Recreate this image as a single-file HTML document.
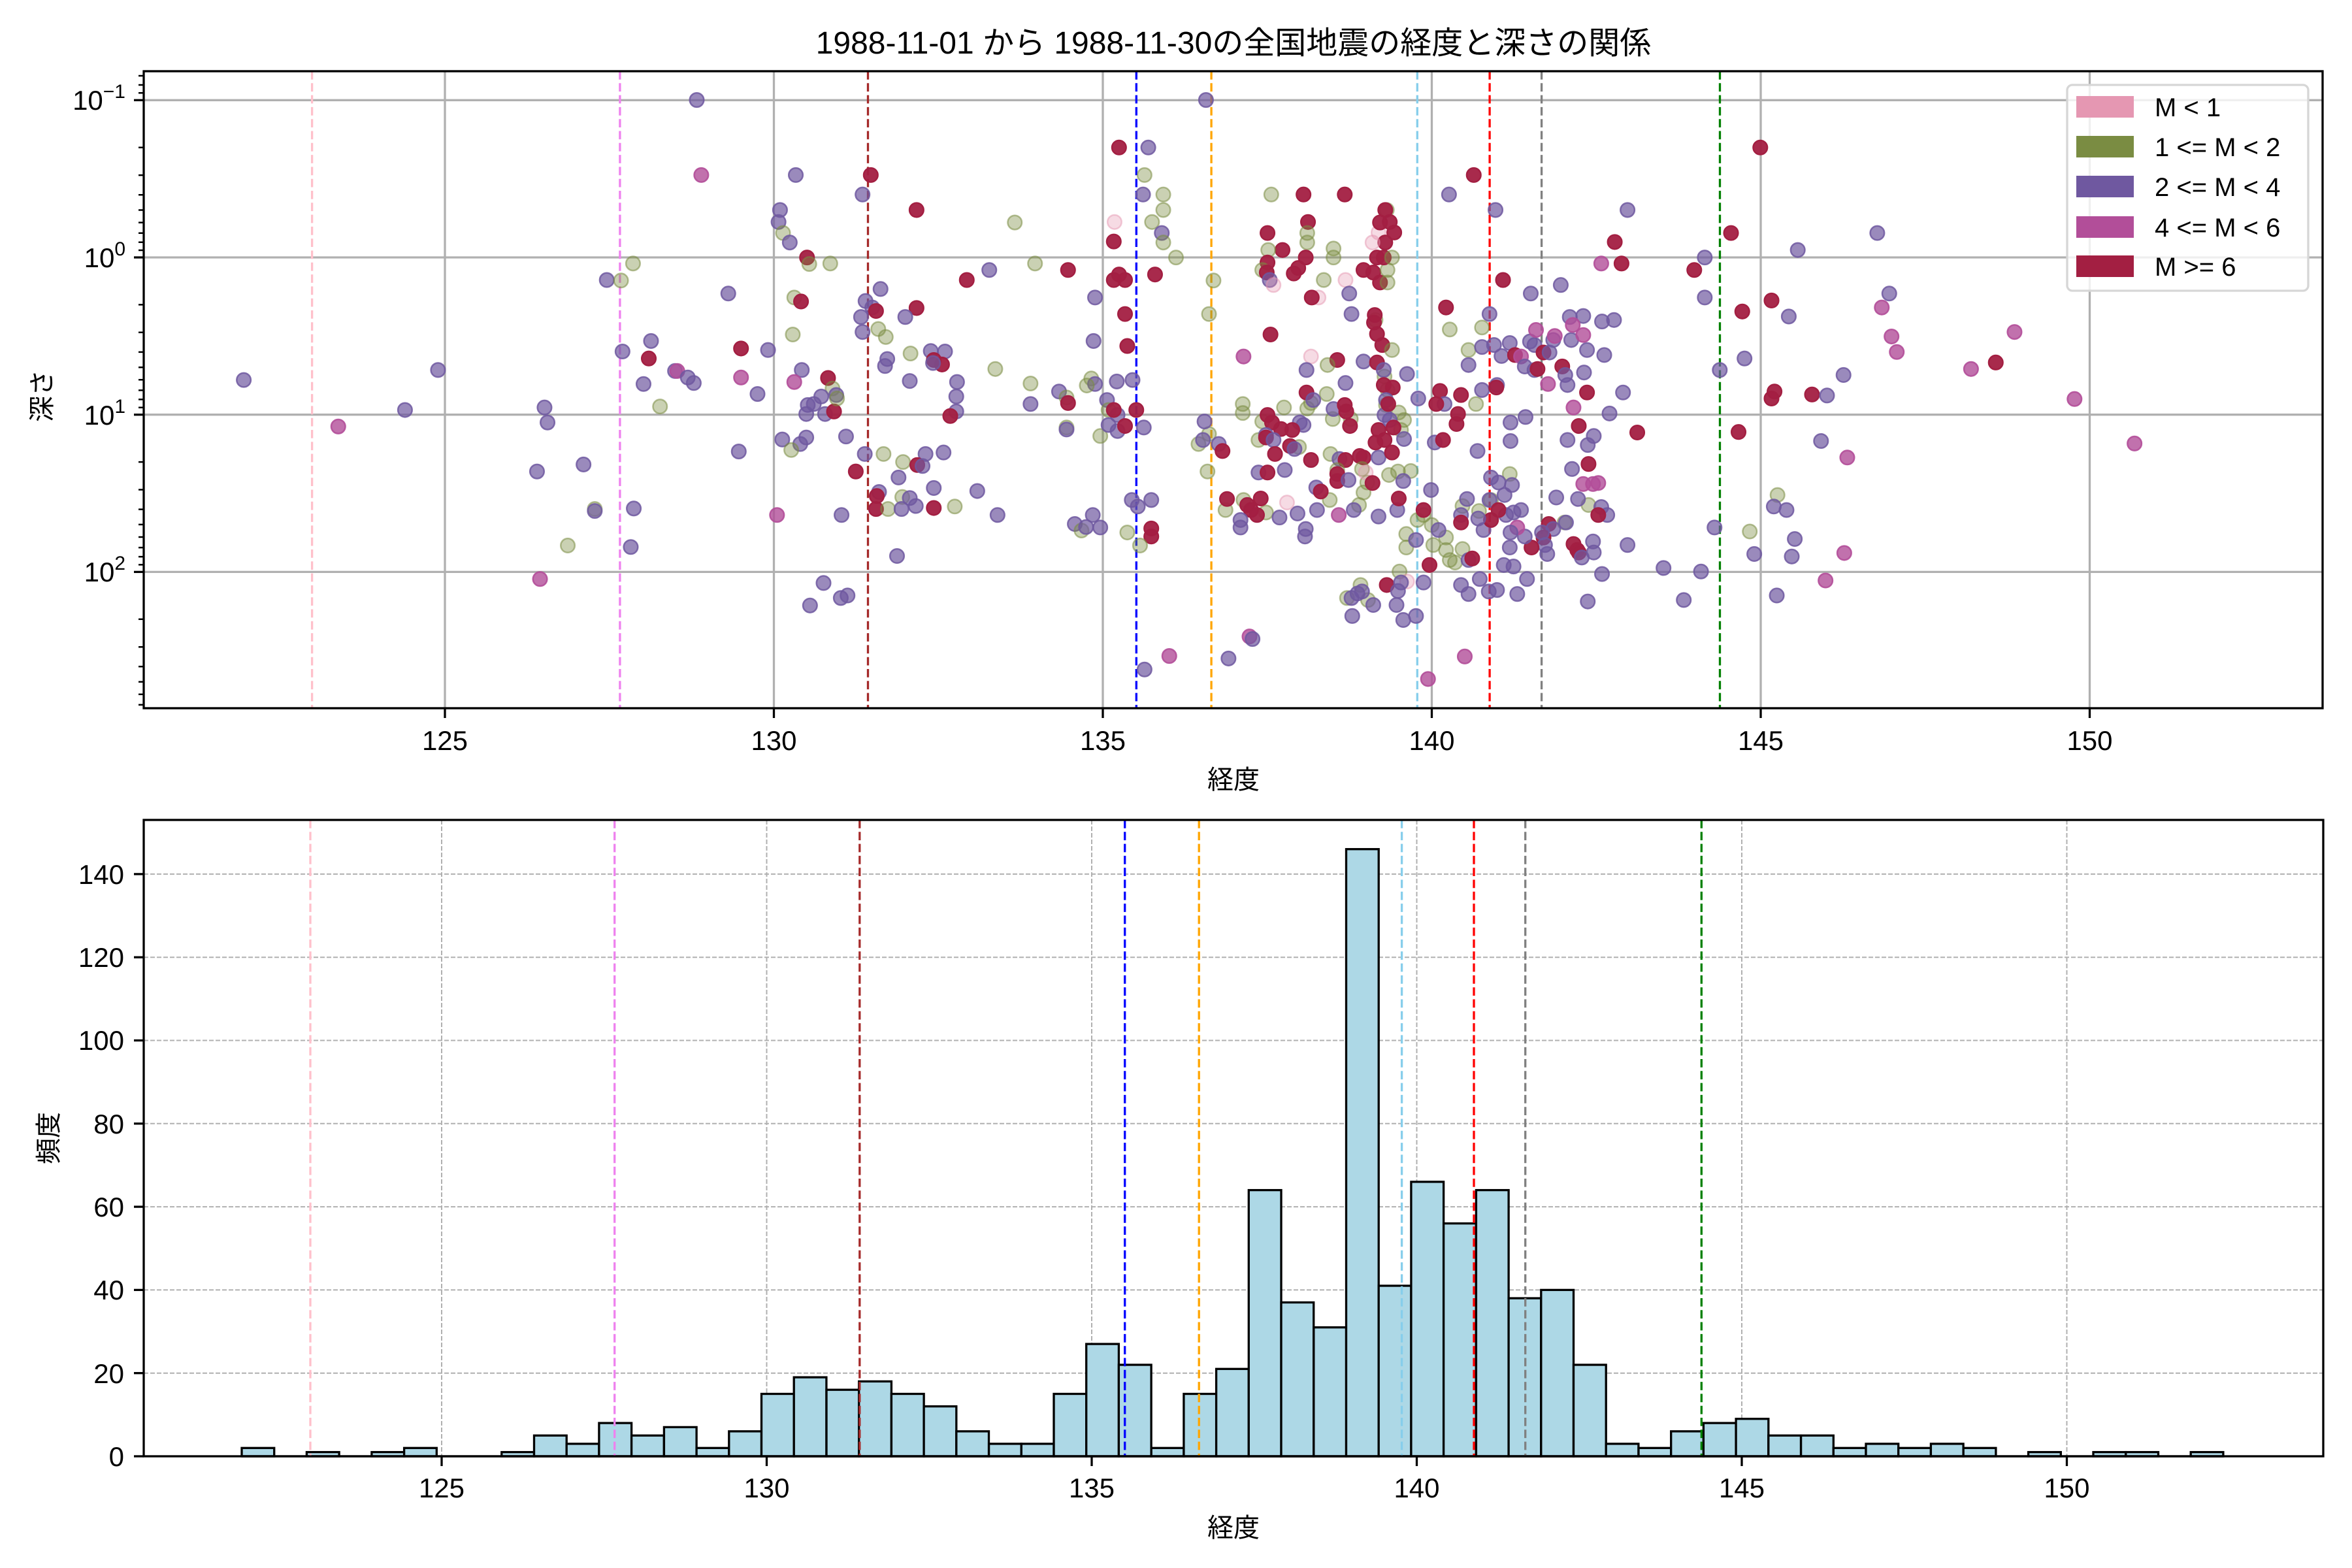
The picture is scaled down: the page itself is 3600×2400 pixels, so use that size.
<!DOCTYPE html>
<html><head><meta charset="utf-8"><style>
html,body{margin:0;padding:0;background:#fff}
svg{display:block}
text{font-family:"Liberation Sans","Noto Sans CJK JP",sans-serif;fill:#000}
.g{fill:rgba(122,140,66,0.4);stroke:rgba(122,140,66,0.55)}
.k{fill:rgba(229,151,178,0.35);stroke:rgba(229,151,178,0.5)}
.p{fill:rgba(111,88,160,0.7);stroke:rgba(111,88,160,0.85)}
.m{fill:rgba(178,78,153,0.8);stroke:rgba(178,78,153,0.9)}
.r{fill:rgba(163,31,66,0.95);stroke:rgba(163,31,66,1)}
</style></head><body>
<svg width="3600" height="2400" viewBox="0 0 3600 2400" xmlns="http://www.w3.org/2000/svg" xmlns:xlink="http://www.w3.org/1999/xlink">
<defs>
<ellipse id="e" rx="9.4" ry="14.1" vector-effect="non-scaling-stroke" stroke-width="2.5"/>
<clipPath id="c1"><rect x="220" y="109" width="3335" height="975"/></clipPath>
</defs>
<rect width="3600" height="2400" fill="#fff"/>

<!-- Title -->
<text x="1888" y="82" font-size="48" text-anchor="middle">1988-11-01 から 1988-11-30の全国地震の経度と深さの関係</text>

<!-- ===== TOP PLOT ===== -->
<g stroke="#b0b0b0" stroke-width="3.3">
<line x1="681" y1="109" x2="681" y2="1084"/>
<line x1="1184.5" y1="109" x2="1184.5" y2="1084"/>
<line x1="1688" y1="109" x2="1688" y2="1084"/>
<line x1="2191.5" y1="109" x2="2191.5" y2="1084"/>
<line x1="2695" y1="109" x2="2695" y2="1084"/>
<line x1="3198.5" y1="109" x2="3198.5" y2="1084"/>
<line x1="220" y1="153.3" x2="3555" y2="153.3"/>
<line x1="220" y1="394" x2="3555" y2="394"/>
<line x1="220" y1="634.7" x2="3555" y2="634.7"/>
<line x1="220" y1="875.4" x2="3555" y2="875.4"/>
</g>
<g stroke-width="3.3" stroke-dasharray="12.8,5.5">
<line x1="477.6" y1="109" x2="477.6" y2="1084" stroke="pink"/>
<line x1="948.9" y1="109" x2="948.9" y2="1084" stroke="violet"/>
<line x1="1328.5" y1="109" x2="1328.5" y2="1084" stroke="brown"/>
<line x1="1739.3" y1="109" x2="1739.3" y2="1084" stroke="blue"/>
<line x1="1854.1" y1="109" x2="1854.1" y2="1084" stroke="orange"/>
<line x1="2169.3" y1="109" x2="2169.3" y2="1084" stroke="skyblue"/>
<line x1="2280.1" y1="109" x2="2280.1" y2="1084" stroke="red"/>
<line x1="2359.6" y1="109" x2="2359.6" y2="1084" stroke="gray"/>
<line x1="2632.5" y1="109" x2="2632.5" y2="1084" stroke="green"/>
</g>

<g clip-path="url(#c1)">
<g transform="matrix(1.148,0,0,0.7653,0,0)">
<use xlink:href="#e" x="325" y="760" class="p"/><use xlink:href="#e" x="451" y="853" class="m"/><use xlink:href="#e" x="540" y="820" class="p"/><use xlink:href="#e" x="584" y="740" class="p"/><use xlink:href="#e" x="716" y="943" class="p"/><use xlink:href="#e" x="726" y="815" class="p"/><use xlink:href="#e" x="730" y="845" class="p"/><use xlink:href="#e" x="778" y="929" class="p"/><use xlink:href="#e" x="757" y="1091" class="g"/><use xlink:href="#e" x="793" y="1018" class="g"/><use xlink:href="#e" x="793" y="1022" class="p"/><use xlink:href="#e" x="809" y="560" class="p"/><use xlink:href="#e" x="828" y="561" class="g"/><use xlink:href="#e" x="844" y="527" class="g"/><use xlink:href="#e" x="830" y="703" class="p"/><use xlink:href="#e" x="868" y="682" class="p"/><use xlink:href="#e" x="865" y="717" class="r"/><use xlink:href="#e" x="858" y="768" class="p"/><use xlink:href="#e" x="880" y="813" class="g"/><use xlink:href="#e" x="845" y="1017" class="p"/><use xlink:href="#e" x="841" y="1094" class="p"/><use xlink:href="#e" x="900" y="742" class="p"/><use xlink:href="#e" x="903" y="742" class="m"/><use xlink:href="#e" x="917" y="755" class="p"/><use xlink:href="#e" x="925" y="766" class="p"/><use xlink:href="#e" x="720" y="1158" class="m"/><use xlink:href="#e" x="929" y="200" class="p"/><use xlink:href="#e" x="935" y="350" class="m"/><use xlink:href="#e" x="971" y="587" class="p"/><use xlink:href="#e" x="988" y="697" class="r"/><use xlink:href="#e" x="988" y="755" class="m"/><use xlink:href="#e" x="1010" y="788" class="p"/><use xlink:href="#e" x="1024" y="700" class="p"/><use xlink:href="#e" x="985" y="903" class="p"/><use xlink:href="#e" x="1036" y="1030" class="m"/><use xlink:href="#e" x="1040" y="420" class="p"/><use xlink:href="#e" x="1038" y="444" class="p"/><use xlink:href="#e" x="1044" y="466" class="g"/><use xlink:href="#e" x="1053" y="485" class="p"/><use xlink:href="#e" x="1061" y="350" class="p"/><use xlink:href="#e" x="1076" y="515" class="r"/><use xlink:href="#e" x="1079" y="528" class="g"/><use xlink:href="#e" x="1107" y="527" class="g"/><use xlink:href="#e" x="1059" y="595" class="g"/><use xlink:href="#e" x="1068" y="603" class="r"/><use xlink:href="#e" x="1057" y="669" class="g"/><use xlink:href="#e" x="1069" y="740" class="p"/><use xlink:href="#e" x="1104" y="756" class="r"/><use xlink:href="#e" x="1110" y="777" class="g"/><use xlink:href="#e" x="1115" y="790" class="p"/><use xlink:href="#e" x="1095" y="793" class="p"/><use xlink:href="#e" x="1085" y="808" class="p"/><use xlink:href="#e" x="1077" y="810" class="p"/><use xlink:href="#e" x="1075" y="828" class="p"/><use xlink:href="#e" x="1100" y="828" class="p"/><use xlink:href="#e" x="1112" y="823" class="r"/><use xlink:href="#e" x="1116" y="797" class="g"/><use xlink:href="#e" x="1059" y="764" class="m"/><use xlink:href="#e" x="1043" y="879" class="p"/><use xlink:href="#e" x="1075" y="875" class="p"/><use xlink:href="#e" x="1067" y="888" class="p"/><use xlink:href="#e" x="1055" y="900" class="g"/><use xlink:href="#e" x="1128" y="873" class="p"/><use xlink:href="#e" x="1098" y="1166" class="p"/><use xlink:href="#e" x="1080" y="1211" class="p"/><use xlink:href="#e" x="1121" y="1196" class="p"/><use xlink:href="#e" x="1130" y="1191" class="p"/><use xlink:href="#e" x="1122" y="1030" class="p"/><use xlink:href="#e" x="1161" y="350" class="r"/><use xlink:href="#e" x="1150" y="389" class="p"/><use xlink:href="#e" x="1222" y="420" class="r"/><use xlink:href="#e" x="1174" y="578" class="p"/><use xlink:href="#e" x="1154" y="602" class="p"/><use xlink:href="#e" x="1163" y="615" class="p"/><use xlink:href="#e" x="1168" y="622" class="r"/><use xlink:href="#e" x="1148" y="634" class="p"/><use xlink:href="#e" x="1150" y="664" class="p"/><use xlink:href="#e" x="1171" y="658" class="g"/><use xlink:href="#e" x="1181" y="674" class="g"/><use xlink:href="#e" x="1222" y="616" class="r"/><use xlink:href="#e" x="1207" y="634" class="p"/><use xlink:href="#e" x="1183" y="718" class="p"/><use xlink:href="#e" x="1180" y="732" class="p"/><use xlink:href="#e" x="1213" y="762" class="p"/><use xlink:href="#e" x="1214" y="707" class="g"/><use xlink:href="#e" x="1241" y="702" class="p"/><use xlink:href="#e" x="1260" y="703" class="p"/><use xlink:href="#e" x="1245" y="720" class="r"/><use xlink:href="#e" x="1256" y="729" class="r"/><use xlink:href="#e" x="1244" y="726" class="p"/><use xlink:href="#e" x="1276" y="764" class="p"/><use xlink:href="#e" x="1275" y="793" class="p"/><use xlink:href="#e" x="1275" y="823" class="p"/><use xlink:href="#e" x="1267" y="832" class="r"/><use xlink:href="#e" x="1289" y="560" class="r"/><use xlink:href="#e" x="1319" y="540" class="p"/><use xlink:href="#e" x="1353" y="445" class="g"/><use xlink:href="#e" x="1380" y="527" class="g"/><use xlink:href="#e" x="1424" y="540" class="r"/><use xlink:href="#e" x="1460" y="595" class="p"/><use xlink:href="#e" x="1458" y="682" class="p"/><use xlink:href="#e" x="1327" y="738" class="g"/><use xlink:href="#e" x="1374" y="767" class="g"/><use xlink:href="#e" x="1412" y="783" class="p"/><use xlink:href="#e" x="1422" y="795" class="g"/><use xlink:href="#e" x="1424" y="806" class="r"/><use xlink:href="#e" x="1374" y="808" class="p"/><use xlink:href="#e" x="1455" y="757" class="g"/><use xlink:href="#e" x="1460" y="768" class="p"/><use xlink:href="#e" x="1449" y="771" class="g"/><use xlink:href="#e" x="1153" y="908" class="p"/><use xlink:href="#e" x="1178" y="908" class="g"/><use xlink:href="#e" x="1234" y="908" class="p"/><use xlink:href="#e" x="1258" y="905" class="p"/><use xlink:href="#e" x="1204" y="924" class="g"/><use xlink:href="#e" x="1223" y="930" class="r"/><use xlink:href="#e" x="1230" y="932" class="p"/><use xlink:href="#e" x="1141" y="943" class="r"/><use xlink:href="#e" x="1198" y="955" class="p"/><use xlink:href="#e" x="1245" y="976" class="p"/><use xlink:href="#e" x="1303" y="982" class="p"/><use xlink:href="#e" x="1172" y="984" class="p"/><use xlink:href="#e" x="1169" y="992" class="r"/><use xlink:href="#e" x="1203" y="994" class="g"/><use xlink:href="#e" x="1213" y="996" class="p"/><use xlink:href="#e" x="1221" y="1012" class="p"/><use xlink:href="#e" x="1168" y="1018" class="r"/><use xlink:href="#e" x="1184" y="1018" class="g"/><use xlink:href="#e" x="1202" y="1018" class="p"/><use xlink:href="#e" x="1245" y="1016" class="r"/><use xlink:href="#e" x="1273" y="1013" class="g"/><use xlink:href="#e" x="1330" y="1030" class="p"/><use xlink:href="#e" x="1196" y="1112" class="p"/><use xlink:href="#e" x="1422" y="855" class="g"/><use xlink:href="#e" x="1422" y="859" class="p"/><use xlink:href="#e" x="1467" y="872" class="g"/><use xlink:href="#e" x="1433" y="1048" class="p"/><use xlink:href="#e" x="1442" y="1061" class="g"/><use xlink:href="#e" x="1448" y="1054" class="p"/><use xlink:href="#e" x="1457" y="1030" class="p"/><use xlink:href="#e" x="1467" y="1055" class="p"/><use xlink:href="#e" x="1476" y="800" class="p"/><use xlink:href="#e" x="1478" y="820" class="g"/><use xlink:href="#e" x="1490" y="830" class="p"/><use xlink:href="#e" x="1478" y="850" class="p"/><use xlink:href="#e" x="1490" y="862" class="p"/><use xlink:href="#e" x="1500" y="852" class="r"/><use xlink:href="#e" x="1525" y="855" class="p"/><use xlink:href="#e" x="1492" y="295" class="r"/><use xlink:href="#e" x="1531" y="295" class="p"/><use xlink:href="#e" x="1526" y="350" class="g"/><use xlink:href="#e" x="1524" y="389" class="p"/><use xlink:href="#e" x="1551" y="389" class="g"/><use xlink:href="#e" x="1551" y="420" class="g"/><use xlink:href="#e" x="1536" y="444" class="g"/><use xlink:href="#e" x="1486" y="444" class="k"/><use xlink:href="#e" x="1549" y="466" class="p"/><use xlink:href="#e" x="1551" y="485" class="g"/><use xlink:href="#e" x="1485" y="483" class="r"/><use xlink:href="#e" x="1485" y="560" class="r"/><use xlink:href="#e" x="1492" y="549" class="r"/><use xlink:href="#e" x="1500" y="560" class="r"/><use xlink:href="#e" x="1540" y="549" class="r"/><use xlink:href="#e" x="1500" y="628" class="r"/><use xlink:href="#e" x="1503" y="692" class="r"/><use xlink:href="#e" x="1489" y="763" class="p"/><use xlink:href="#e" x="1510" y="760" class="p"/><use xlink:href="#e" x="1485" y="820" class="r"/><use xlink:href="#e" x="1515" y="820" class="r"/><use xlink:href="#e" x="1509" y="1000" class="p"/><use xlink:href="#e" x="1517" y="1013" class="p"/><use xlink:href="#e" x="1535" y="1000" class="p"/><use xlink:href="#e" x="1535" y="1057" class="r"/><use xlink:href="#e" x="1535" y="1073" class="r"/><use xlink:href="#e" x="1503" y="1065" class="g"/><use xlink:href="#e" x="1520" y="1091" class="g"/><use xlink:href="#e" x="1526" y="1339" class="p"/><use xlink:href="#e" x="1559" y="1312" class="m"/>
</g>
<g transform="matrix(1.148,0,0,0.7653,1800,0)">
<use xlink:href="#e" x="40" y="200" class="p"/><use xlink:href="#e" x="0" y="515" class="g"/><use xlink:href="#e" x="50" y="561" class="g"/><use xlink:href="#e" x="44" y="628" class="g"/><use xlink:href="#e" x="127" y="389" class="g"/><use xlink:href="#e" x="170" y="389" class="r"/><use xlink:href="#e" x="225" y="389" class="r"/><use xlink:href="#e" x="281" y="420" class="g"/><use xlink:href="#e" x="279" y="420" class="r"/><use xlink:href="#e" x="176" y="444" class="r"/><use xlink:href="#e" x="175" y="466" class="g"/><use xlink:href="#e" x="122" y="466" class="r"/><use xlink:href="#e" x="175" y="485" class="g"/><use xlink:href="#e" x="142" y="500" class="r"/><use xlink:href="#e" x="123" y="500" class="g"/><use xlink:href="#e" x="210" y="497" class="g"/><use xlink:href="#e" x="210" y="515" class="g"/><use xlink:href="#e" x="173" y="515" class="r"/><use xlink:href="#e" x="122" y="525" class="r"/><use xlink:href="#e" x="115" y="540" class="g"/><use xlink:href="#e" x="121" y="545" class="r"/><use xlink:href="#e" x="125" y="560" class="p"/><use xlink:href="#e" x="130" y="570" class="k"/><use xlink:href="#e" x="157" y="547" class="r"/><use xlink:href="#e" x="163" y="536" class="r"/><use xlink:href="#e" x="197" y="560" class="g"/><use xlink:href="#e" x="226" y="560" class="k"/><use xlink:href="#e" x="250" y="540" class="r"/><use xlink:href="#e" x="263" y="545" class="r"/><use xlink:href="#e" x="272" y="565" class="r"/><use xlink:href="#e" x="282" y="540" class="g"/><use xlink:href="#e" x="282" y="565" class="g"/><use xlink:href="#e" x="270" y="465" class="k"/><use xlink:href="#e" x="272" y="445" class="r"/><use xlink:href="#e" x="285" y="444" class="r"/><use xlink:href="#e" x="279" y="485" class="r"/><use xlink:href="#e" x="262" y="485" class="k"/><use xlink:href="#e" x="268" y="515" class="r"/><use xlink:href="#e" x="277" y="515" class="r"/><use xlink:href="#e" x="288" y="515" class="g"/><use xlink:href="#e" x="291" y="465" class="r"/><use xlink:href="#e" x="190" y="595" class="k"/><use xlink:href="#e" x="181" y="595" class="r"/><use xlink:href="#e" x="231" y="587" class="p"/><use xlink:href="#e" x="234" y="628" class="p"/><use xlink:href="#e" x="266" y="640" class="g"/><use xlink:href="#e" x="265" y="630" class="r"/><use xlink:href="#e" x="264" y="645" class="r"/><use xlink:href="#e" x="268" y="668" class="r"/><use xlink:href="#e" x="126" y="669" class="r"/><use xlink:href="#e" x="275" y="690" class="r"/><use xlink:href="#e" x="288" y="700" class="g"/><use xlink:href="#e" x="250" y="723" class="p"/><use xlink:href="#e" x="268" y="725" class="r"/><use xlink:href="#e" x="90" y="713" class="m"/><use xlink:href="#e" x="180" y="713" class="k"/><use xlink:href="#e" x="215" y="720" class="r"/><use xlink:href="#e" x="365" y="659" class="g"/><use xlink:href="#e" x="408" y="655" class="g"/><use xlink:href="#e" x="360" y="615" class="r"/><use xlink:href="#e" x="418" y="628" class="p"/><use xlink:href="#e" x="436" y="560" class="r"/><use xlink:href="#e" x="473" y="587" class="p"/><use xlink:href="#e" x="513" y="570" class="p"/><use xlink:href="#e" x="364" y="389" class="p"/><use xlink:href="#e" x="426" y="420" class="p"/><use xlink:href="#e" x="397" y="350" class="r"/>
<use xlink:href="#e" x="202" y="730" class="g"/><use xlink:href="#e" x="278" y="753" class="g"/><use xlink:href="#e" x="282" y="780" class="g"/><use xlink:href="#e" x="201" y="788" class="g"/><use xlink:href="#e" x="89" y="808" class="g"/><use xlink:href="#e" x="89" y="826" class="g"/><use xlink:href="#e" x="144" y="815" class="g"/><use xlink:href="#e" x="180" y="806" class="g"/><use xlink:href="#e" x="175" y="817" class="g"/><use xlink:href="#e" x="209" y="838" class="g"/><use xlink:href="#e" x="233" y="838" class="g"/><use xlink:href="#e" x="115" y="843" class="g"/><use xlink:href="#e" x="110" y="880" class="g"/><use xlink:href="#e" x="44" y="868" class="g"/><use xlink:href="#e" x="30" y="888" class="g"/><use xlink:href="#e" x="42" y="943" class="g"/><use xlink:href="#e" x="164" y="894" class="g"/><use xlink:href="#e" x="206" y="908" class="g"/><use xlink:href="#e" x="280" y="810" class="g"/><use xlink:href="#e" x="297" y="825" class="g"/><use xlink:href="#e" x="304" y="840" class="g"/><use xlink:href="#e" x="300" y="860" class="g"/>
<use xlink:href="#e" x="174" y="740" class="p"/><use xlink:href="#e" x="226" y="766" class="p"/><use xlink:href="#e" x="277" y="740" class="p"/><use xlink:href="#e" x="277" y="770" class="r"/><use xlink:href="#e" x="289" y="775" class="r"/><use xlink:href="#e" x="308" y="748" class="p"/><use xlink:href="#e" x="323" y="797" class="p"/><use xlink:href="#e" x="174" y="785" class="r"/><use xlink:href="#e" x="183" y="800" class="p"/><use xlink:href="#e" x="210" y="818" class="p"/><use xlink:href="#e" x="225" y="810" class="r"/><use xlink:href="#e" x="227" y="823" class="r"/><use xlink:href="#e" x="232" y="852" class="r"/><use xlink:href="#e" x="165" y="845" class="p"/><use xlink:href="#e" x="170" y="850" class="p"/><use xlink:href="#e" x="122" y="830" class="r"/><use xlink:href="#e" x="128" y="845" class="r"/><use xlink:href="#e" x="140" y="858" class="r"/><use xlink:href="#e" x="155" y="860" class="r"/><use xlink:href="#e" x="120" y="870" class="p"/><use xlink:href="#e" x="120" y="875" class="r"/><use xlink:href="#e" x="130" y="880" class="p"/><use xlink:href="#e" x="38" y="843" class="p"/><use xlink:href="#e" x="36" y="880" class="p"/><use xlink:href="#e" x="57" y="888" class="p"/><use xlink:href="#e" x="62" y="902" class="r"/><use xlink:href="#e" x="132" y="908" class="r"/><use xlink:href="#e" x="152" y="892" class="r"/><use xlink:href="#e" x="158" y="898" class="p"/><use xlink:href="#e" x="180" y="920" class="r"/><use xlink:href="#e" x="218" y="918" class="p"/><use xlink:href="#e" x="226" y="920" class="r"/><use xlink:href="#e" x="245" y="912" class="r"/><use xlink:href="#e" x="250" y="915" class="r"/><use xlink:href="#e" x="270" y="915" class="p"/><use xlink:href="#e" x="266" y="885" class="r"/><use xlink:href="#e" x="278" y="880" class="r"/><use xlink:href="#e" x="270" y="860" class="r"/><use xlink:href="#e" x="278" y="830" class="p"/><use xlink:href="#e" x="285" y="840" class="p"/><use xlink:href="#e" x="290" y="855" class="r"/><use xlink:href="#e" x="304" y="878" class="p"/><use xlink:href="#e" x="288" y="905" class="r"/><use xlink:href="#e" x="280" y="800" class="p"/><use xlink:href="#e" x="283" y="808" class="r"/>
<use xlink:href="#e" x="90" y="1000" class="g"/><use xlink:href="#e" x="120" y="1025" class="g"/><use xlink:href="#e" x="66" y="1020" class="g"/><use xlink:href="#e" x="215" y="940" class="g"/><use xlink:href="#e" x="205" y="1000" class="g"/><use xlink:href="#e" x="248" y="938" class="g"/><use xlink:href="#e" x="255" y="965" class="g"/><use xlink:href="#e" x="250" y="985" class="g"/><use xlink:href="#e" x="244" y="1010" class="g"/><use xlink:href="#e" x="284" y="950" class="g"/><use xlink:href="#e" x="296" y="943" class="g"/><use xlink:href="#e" x="313" y="942" class="g"/><use xlink:href="#e" x="307" y="1068" class="g"/><use xlink:href="#e" x="307" y="1095" class="g"/><use xlink:href="#e" x="322" y="1040" class="g"/><use xlink:href="#e" x="330" y="1030" class="g"/><use xlink:href="#e" x="341" y="1050" class="g"/><use xlink:href="#e" x="343" y="1090" class="g"/><use xlink:href="#e" x="360" y="1075" class="g"/><use xlink:href="#e" x="360" y="1100" class="g"/><use xlink:href="#e" x="365" y="1120" class="g"/><use xlink:href="#e" x="382" y="1012" class="g"/><use xlink:href="#e" x="404" y="1022" class="g"/><use xlink:href="#e" x="382" y="1098" class="g"/><use xlink:href="#e" x="372" y="1125" class="g"/><use xlink:href="#e" x="298" y="1143" class="g"/><use xlink:href="#e" x="246" y="1170" class="g"/><use xlink:href="#e" x="256" y="1200" class="g"/><use xlink:href="#e" x="228" y="1196" class="g"/><use xlink:href="#e" x="445" y="948" class="g"/><use xlink:href="#e" x="420" y="1000" class="g"/><use xlink:href="#e" x="550" y="1010" class="g"/><use xlink:href="#e" x="518" y="1045" class="g"/><use xlink:href="#e" x="400" y="808" class="g"/><use xlink:href="#e" x="390" y="700" class="g"/>
<use xlink:href="#e" x="95" y="1010" class="r"/><use xlink:href="#e" x="100" y="1020" class="r"/><use xlink:href="#e" x="108" y="1030" class="r"/><use xlink:href="#e" x="68" y="998" class="r"/><use xlink:href="#e" x="113" y="997" class="r"/><use xlink:href="#e" x="86" y="1040" class="p"/><use xlink:href="#e" x="86" y="1055" class="p"/><use xlink:href="#e" x="110" y="945" class="p"/><use xlink:href="#e" x="122" y="945" class="r"/><use xlink:href="#e" x="145" y="940" class="p"/><use xlink:href="#e" x="138" y="1035" class="p"/><use xlink:href="#e" x="162" y="1027" class="p"/><use xlink:href="#e" x="173" y="1058" class="p"/><use xlink:href="#e" x="172" y="1073" class="p"/><use xlink:href="#e" x="187" y="975" class="p"/><use xlink:href="#e" x="188" y="1020" class="p"/><use xlink:href="#e" x="193" y="983" class="r"/><use xlink:href="#e" x="215" y="948" class="r"/><use xlink:href="#e" x="215" y="962" class="r"/><use xlink:href="#e" x="230" y="960" class="p"/><use xlink:href="#e" x="253" y="945" class="k"/><use xlink:href="#e" x="262" y="966" class="r"/><use xlink:href="#e" x="237" y="1020" class="p"/><use xlink:href="#e" x="270" y="1033" class="p"/><use xlink:href="#e" x="148" y="1005" class="k"/><use xlink:href="#e" x="217" y="1030" class="m"/><use xlink:href="#e" x="295" y="1020" class="p"/><use xlink:href="#e" x="297" y="997" class="r"/><use xlink:href="#e" x="303" y="962" class="p"/><use xlink:href="#e" x="330" y="1020" class="r"/><use xlink:href="#e" x="340" y="980" class="p"/><use xlink:href="#e" x="350" y="1060" class="p"/><use xlink:href="#e" x="380" y="1030" class="p"/><use xlink:href="#e" x="388" y="998" class="p"/><use xlink:href="#e" x="410" y="1060" class="p"/><use xlink:href="#e" x="390" y="1120" class="p"/><use xlink:href="#e" x="395" y="1117" class="r"/><use xlink:href="#e" x="380" y="1045" class="r"/><use xlink:href="#e" x="338" y="1130" class="r"/><use xlink:href="#e" x="320" y="1080" class="p"/><use xlink:href="#e" x="308" y="1163" class="k"/><use xlink:href="#e" x="281" y="1170" class="r"/><use xlink:href="#e" x="234" y="1196" class="p"/><use xlink:href="#e" x="242" y="1187" class="p"/><use xlink:href="#e" x="248" y="1183" class="p"/><use xlink:href="#e" x="263" y="1210" class="p"/><use xlink:href="#e" x="296" y="1182" class="p"/><use xlink:href="#e" x="300" y="1165" class="p"/><use xlink:href="#e" x="294" y="1210" class="p"/><use xlink:href="#e" x="303" y="1240" class="p"/><use xlink:href="#e" x="320" y="1232" class="p"/><use xlink:href="#e" x="235" y="1232" class="p"/><use xlink:href="#e" x="330" y="1165" class="p"/><use xlink:href="#e" x="380" y="1170" class="p"/><use xlink:href="#e" x="390" y="1188" class="p"/><use xlink:href="#e" x="405" y="1158" class="p"/><use xlink:href="#e" x="417" y="1183" class="p"/><use xlink:href="#e" x="428" y="1180" class="p"/><use xlink:href="#e" x="455" y="1188" class="p"/><use xlink:href="#e" x="468" y="1158" class="p"/><use xlink:href="#e" x="437" y="1130" class="p"/><use xlink:href="#e" x="450" y="1133" class="p"/><use xlink:href="#e" x="98" y="1273" class="m"/><use xlink:href="#e" x="102" y="1278" class="p"/><use xlink:href="#e" x="70" y="1317" class="p"/><use xlink:href="#e" x="385" y="1313" class="m"/><use xlink:href="#e" x="336" y="1358" class="m"/>
<use xlink:href="#e" x="345" y="885" class="p"/><use xlink:href="#e" x="356" y="880" class="r"/><use xlink:href="#e" x="402" y="902" class="p"/><use xlink:href="#e" x="466" y="834" class="p"/><use xlink:href="#e" x="446" y="845" class="p"/><use xlink:href="#e" x="446" y="882" class="p"/><use xlink:href="#e" x="408" y="780" class="p"/><use xlink:href="#e" x="428" y="770" class="p"/><use xlink:href="#e" x="427" y="775" class="r"/><use xlink:href="#e" x="380" y="790" class="r"/><use xlink:href="#e" x="352" y="782" class="r"/><use xlink:href="#e" x="358" y="808" class="p"/><use xlink:href="#e" x="347" y="808" class="r"/><use xlink:href="#e" x="376" y="828" class="r"/><use xlink:href="#e" x="374" y="848" class="r"/><use xlink:href="#e" x="390" y="730" class="p"/><use xlink:href="#e" x="408" y="694" class="p"/><use xlink:href="#e" x="424" y="690" class="p"/><use xlink:href="#e" x="434" y="712" class="p"/><use xlink:href="#e" x="445" y="686" class="p"/><use xlink:href="#e" x="472" y="683" class="p"/><use xlink:href="#e" x="478" y="690" class="p"/><use xlink:href="#e" x="452" y="710" class="r"/><use xlink:href="#e" x="460" y="713" class="m"/><use xlink:href="#e" x="465" y="733" class="p"/><use xlink:href="#e" x="478" y="740" class="p"/><use xlink:href="#e" x="482" y="738" class="r"/><use xlink:href="#e" x="490" y="705" class="r"/><use xlink:href="#e" x="498" y="705" class="p"/><use xlink:href="#e" x="503" y="680" class="p"/><use xlink:href="#e" x="527" y="680" class="p"/><use xlink:href="#e" x="548" y="700" class="p"/><use xlink:href="#e" x="525" y="634" class="p"/><use xlink:href="#e" x="543" y="632" class="p"/><use xlink:href="#e" x="568" y="643" class="p"/><use xlink:href="#e" x="584" y="640" class="p"/><use xlink:href="#e" x="529" y="650" class="m"/><use xlink:href="#e" x="480" y="660" class="m"/><use xlink:href="#e" x="505" y="672" class="m"/><use xlink:href="#e" x="543" y="670" class="m"/><use xlink:href="#e" x="571" y="710" class="p"/><use xlink:href="#e" x="515" y="733" class="r"/><use xlink:href="#e" x="519" y="750" class="p"/><use xlink:href="#e" x="522" y="770" class="p"/><use xlink:href="#e" x="548" y="785" class="r"/><use xlink:href="#e" x="496" y="768" class="m"/><use xlink:href="#e" x="596" y="785" class="p"/><use xlink:href="#e" x="578" y="827" class="p"/><use xlink:href="#e" x="530" y="815" class="m"/><use xlink:href="#e" x="544" y="745" class="p"/><use xlink:href="#e" x="537" y="852" class="r"/><use xlink:href="#e" x="557" y="872" class="p"/><use xlink:href="#e" x="549" y="890" class="p"/><use xlink:href="#e" x="522" y="880" class="p"/><use xlink:href="#e" x="615" y="865" class="r"/><use xlink:href="#e" x="550" y="928" class="r"/><use xlink:href="#e" x="528" y="938" class="p"/><use xlink:href="#e" x="543" y="968" class="m"/><use xlink:href="#e" x="556" y="968" class="m"/><use xlink:href="#e" x="563" y="966" class="m"/><use xlink:href="#e" x="507" y="995" class="p"/><use xlink:href="#e" x="536" y="998" class="p"/><use xlink:href="#e" x="567" y="1014" class="p"/><use xlink:href="#e" x="575" y="1030" class="p"/><use xlink:href="#e" x="563" y="1030" class="r"/><use xlink:href="#e" x="497" y="1048" class="r"/><use xlink:href="#e" x="503" y="1058" class="p"/><use xlink:href="#e" x="520" y="1045" class="p"/><use xlink:href="#e" x="490" y="1075" class="r"/><use xlink:href="#e" x="492" y="1090" class="p"/><use xlink:href="#e" x="495" y="1108" class="p"/><use xlink:href="#e" x="474" y="1095" class="r"/><use xlink:href="#e" x="488" y="1065" class="p"/><use xlink:href="#e" x="465" y="1073" class="p"/><use xlink:href="#e" x="455" y="1055" class="m"/><use xlink:href="#e" x="446" y="1065" class="p"/><use xlink:href="#e" x="440" y="1030" class="p"/><use xlink:href="#e" x="445" y="1095" class="p"/><use xlink:href="#e" x="530" y="1088" class="r"/><use xlink:href="#e" x="535" y="1100" class="r"/><use xlink:href="#e" x="556" y="1083" class="p"/><use xlink:href="#e" x="557" y="1105" class="p"/><use xlink:href="#e" x="537" y="1105" class="r"/><use xlink:href="#e" x="541" y="1115" class="p"/><use xlink:href="#e" x="602" y="1090" class="p"/><use xlink:href="#e" x="568" y="1148" class="p"/><use xlink:href="#e" x="549" y="1203" class="p"/><use xlink:href="#e" x="418" y="1000" class="p"/><use xlink:href="#e" x="420" y="1040" class="r"/><use xlink:href="#e" x="420" y="955" class="p"/><use xlink:href="#e" x="430" y="965" class="p"/><use xlink:href="#e" x="448" y="970" class="p"/><use xlink:href="#e" x="438" y="990" class="p"/><use xlink:href="#e" x="430" y="1020" class="r"/><use xlink:href="#e" x="450" y="1025" class="p"/><use xlink:href="#e" x="460" y="1020" class="p"/><use xlink:href="#e" x="403" y="1037" class="p"/><use xlink:href="#e" x="650" y="1136" class="p"/><use xlink:href="#e" x="700" y="1143" class="p"/><use xlink:href="#e" x="677" y="1200" class="p"/>
<use xlink:href="#e" x="585" y="484" class="r"/><use xlink:href="#e" x="567" y="527" class="m"/><use xlink:href="#e" x="594" y="527" class="r"/><use xlink:href="#e" x="602" y="420" class="p"/><use xlink:href="#e" x="740" y="466" class="r"/><use xlink:href="#e" x="705" y="515" class="p"/><use xlink:href="#e" x="691" y="540" class="r"/><use xlink:href="#e" x="829" y="500" class="p"/><use xlink:href="#e" x="705" y="595" class="p"/><use xlink:href="#e" x="755" y="623" class="r"/><use xlink:href="#e" x="794" y="601" class="r"/><use xlink:href="#e" x="817" y="633" class="p"/><use xlink:href="#e" x="935" y="466" class="p"/><use xlink:href="#e" x="951" y="587" class="p"/><use xlink:href="#e" x="941" y="615" class="m"/><use xlink:href="#e" x="954" y="673" class="m"/><use xlink:href="#e" x="961" y="704" class="m"/><use xlink:href="#e" x="1118" y="664" class="m"/><use xlink:href="#e" x="1060" y="738" class="m"/><use xlink:href="#e" x="1093" y="725" class="r"/><use xlink:href="#e" x="725" y="740" class="p"/><use xlink:href="#e" x="758" y="717" class="p"/><use xlink:href="#e" x="890" y="750" class="p"/><use xlink:href="#e" x="798" y="783" class="r"/><use xlink:href="#e" x="794" y="797" class="r"/><use xlink:href="#e" x="848" y="789" class="r"/><use xlink:href="#e" x="868" y="791" class="p"/><use xlink:href="#e" x="1198" y="798" class="m"/><use xlink:href="#e" x="750" y="864" class="r"/><use xlink:href="#e" x="860" y="882" class="p"/><use xlink:href="#e" x="895" y="915" class="m"/><use xlink:href="#e" x="1278" y="887" class="m"/><use xlink:href="#e" x="802" y="990" class="g"/><use xlink:href="#e" x="797" y="1013" class="p"/><use xlink:href="#e" x="814" y="1020" class="p"/><use xlink:href="#e" x="718" y="1055" class="p"/><use xlink:href="#e" x="765" y="1063" class="g"/><use xlink:href="#e" x="825" y="1078" class="p"/><use xlink:href="#e" x="771" y="1108" class="p"/><use xlink:href="#e" x="821" y="1113" class="p"/><use xlink:href="#e" x="891" y="1106" class="m"/><use xlink:href="#e" x="866" y="1161" class="m"/><use xlink:href="#e" x="801" y="1191" class="p"/><use xlink:href="#e" x="779" y="295" class="r"/>
</g>
</g>

<!-- top ticks -->
<g stroke="#000" stroke-width="3.3">
<line x1="681" y1="1084" x2="681" y2="1099"/><line x1="1184.5" y1="1084" x2="1184.5" y2="1099"/><line x1="1688" y1="1084" x2="1688" y2="1099"/><line x1="2191.5" y1="1084" x2="2191.5" y2="1099"/><line x1="2695" y1="1084" x2="2695" y2="1099"/><line x1="3198.5" y1="1084" x2="3198.5" y2="1099"/>
<line x1="205" y1="153.3" x2="220" y2="153.3"/><line x1="205" y1="394" x2="220" y2="394"/><line x1="205" y1="634.7" x2="220" y2="634.7"/><line x1="205" y1="875.4" x2="220" y2="875.4"/>
</g>
<g stroke="#000" stroke-width="2.5">
<path d="M212 116H220M212 130H220M212 142.3H220M212 225.7H220M212 268.1H220M212 298.2H220M212 321.5H220M212 340.6H220M212 356.7H220M212 370.7H220M212 383H220M212 466.4H220M212 508.8H220M212 538.9H220M212 562.2H220M212 581.3H220M212 597.4H220M212 611.4H220M212 623.7H220M212 707.1H220M212 749.5H220M212 779.6H220M212 802.9H220M212 822H220M212 838.1H220M212 852.1H220M212 864.4H220M212 947.8H220M212 990.2H220M212 1020.3H220M212 1043.6H220M212 1062.7H220M212 1078.8H220"/>
</g>
<rect x="220" y="109" width="3335" height="975" fill="none" stroke="#000" stroke-width="3.3"/>
<g font-size="42" text-anchor="middle">
<text x="681" y="1148">125</text><text x="1184.5" y="1148">130</text><text x="1688" y="1148">135</text><text x="2191.5" y="1148">140</text><text x="2695" y="1148">145</text><text x="3198.5" y="1148">150</text>
</g>
<g font-size="42" text-anchor="end">
<text x="192" y="168">10<tspan font-size="30" dy="-18">−1</tspan></text>
<text x="192" y="409">10<tspan font-size="30" dy="-18">0</tspan></text>
<text x="192" y="650">10<tspan font-size="30" dy="-18">1</tspan></text>
<text x="192" y="890">10<tspan font-size="30" dy="-18">2</tspan></text>
</g>
<text x="1888" y="1207" font-size="40" text-anchor="middle">経度</text>
<text transform="translate(78,606) rotate(-90)" font-size="40" text-anchor="middle">深さ</text>

<!-- legend -->
<rect x="3164" y="130" width="369" height="315" rx="8" fill="rgba(255,255,255,0.8)" stroke="#d6d6d6" stroke-width="3.3"/>
<rect x="3178" y="147" width="88" height="33" fill="#e597b2"/>
<rect x="3178" y="208" width="88" height="33" fill="#7a8c42"/>
<rect x="3178" y="269" width="88" height="33" fill="#6f58a0"/>
<rect x="3178" y="331" width="88" height="33" fill="#b24e99"/>
<rect x="3178" y="391" width="88" height="33" fill="#a31f42"/>
<g font-size="40">
<text x="3298" y="178">M &lt; 1</text>
<text x="3298" y="239">1 &lt;= M &lt; 2</text>
<text x="3298" y="300">2 &lt;= M &lt; 4</text>
<text x="3298" y="362">4 &lt;= M &lt; 6</text>
<text x="3298" y="422">M &gt;= 6</text>
</g>

<!-- ===== BOTTOM PLOT ===== -->
<g stroke="#b0b0b0" stroke-width="2" stroke-dasharray="7,3">
<line x1="676" y1="1255" x2="676" y2="2229"/><line x1="1173.5" y1="1255" x2="1173.5" y2="2229"/><line x1="1671" y1="1255" x2="1671" y2="2229"/><line x1="2168.5" y1="1255" x2="2168.5" y2="2229"/><line x1="2666" y1="1255" x2="2666" y2="2229"/><line x1="3163.5" y1="1255" x2="3163.5" y2="2229"/>
<line x1="220" y1="2101.7" x2="3556" y2="2101.7"/><line x1="220" y1="1974.4" x2="3556" y2="1974.4"/><line x1="220" y1="1847.1" x2="3556" y2="1847.1"/><line x1="220" y1="1719.8" x2="3556" y2="1719.8"/><line x1="220" y1="1592.5" x2="3556" y2="1592.5"/><line x1="220" y1="1465.2" x2="3556" y2="1465.2"/><line x1="220" y1="1337.9" x2="3556" y2="1337.9"/>
</g>
<g fill="#add8e6" stroke="#000" stroke-width="3.3">
<rect x="370" y="2216.3" width="49.72" height="12.7"/>
<rect x="469.4" y="2222.6" width="49.72" height="6.4"/>
<rect x="568.9" y="2222.6" width="49.72" height="6.4"/>
<rect x="618.6" y="2216.3" width="49.72" height="12.7"/>
<rect x="767.8" y="2222.6" width="49.72" height="6.4"/>
<rect x="817.5" y="2197.2" width="49.72" height="31.8"/>
<rect x="867.2" y="2209.9" width="49.72" height="19.1"/>
<rect x="916.9" y="2178.1" width="49.72" height="50.9"/>
<rect x="966.6" y="2197.2" width="49.72" height="31.8"/>
<rect x="1016.4" y="2184.4" width="49.72" height="44.6"/>
<rect x="1066.1" y="2216.3" width="49.72" height="12.7"/>
<rect x="1115.8" y="2190.8" width="49.72" height="38.2"/>
<rect x="1165.5" y="2133.5" width="49.72" height="95.5"/>
<rect x="1215.2" y="2108.1" width="49.72" height="120.9"/>
<rect x="1265" y="2127.2" width="49.72" height="101.8"/>
<rect x="1314.7" y="2114.4" width="49.72" height="114.6"/>
<rect x="1364.4" y="2133.5" width="49.72" height="95.5"/>
<rect x="1414.1" y="2152.6" width="49.72" height="76.4"/>
<rect x="1463.8" y="2190.8" width="49.72" height="38.2"/>
<rect x="1513.6" y="2209.9" width="49.72" height="19.1"/>
<rect x="1563.3" y="2209.9" width="49.72" height="19.1"/>
<rect x="1613" y="2133.5" width="49.72" height="95.5"/>
<rect x="1662.7" y="2057.1" width="49.72" height="171.9"/>
<rect x="1712.4" y="2089" width="49.72" height="140"/>
<rect x="1762.2" y="2216.3" width="49.72" height="12.7"/>
<rect x="1811.9" y="2133.5" width="49.72" height="95.5"/>
<rect x="1861.6" y="2095.3" width="49.72" height="133.7"/>
<rect x="1911.3" y="1821.6" width="49.72" height="407.4"/>
<rect x="1961" y="1993.5" width="49.72" height="235.5"/>
<rect x="2010.8" y="2031.7" width="49.72" height="197.3"/>
<rect x="2060.5" y="1299.7" width="49.72" height="929.3"/>
<rect x="2110.2" y="1968" width="49.72" height="261"/>
<rect x="2159.9" y="1808.9" width="49.72" height="420.1"/>
<rect x="2209.6" y="1872.6" width="49.72" height="356.4"/>
<rect x="2259.4" y="1821.6" width="49.72" height="407.4"/>
<rect x="2309.1" y="1987.1" width="49.72" height="241.9"/>
<rect x="2358.8" y="1974.4" width="49.72" height="254.6"/>
<rect x="2408.5" y="2089" width="49.72" height="140"/>
<rect x="2458.2" y="2209.9" width="49.72" height="19.1"/>
<rect x="2508" y="2216.3" width="49.72" height="12.7"/>
<rect x="2557.7" y="2190.8" width="49.72" height="38.2"/>
<rect x="2607.4" y="2178.1" width="49.72" height="50.9"/>
<rect x="2657.1" y="2171.7" width="49.72" height="57.3"/>
<rect x="2706.8" y="2197.2" width="49.72" height="31.8"/>
<rect x="2756.6" y="2197.2" width="49.72" height="31.8"/>
<rect x="2806.3" y="2216.3" width="49.72" height="12.7"/>
<rect x="2856" y="2209.9" width="49.72" height="19.1"/>
<rect x="2905.7" y="2216.3" width="49.72" height="12.7"/>
<rect x="2955.4" y="2209.9" width="49.72" height="19.1"/>
<rect x="3005.2" y="2216.3" width="49.72" height="12.7"/>
<rect x="3104.6" y="2222.6" width="49.72" height="6.4"/>
<rect x="3204" y="2222.6" width="49.72" height="6.4"/>
<rect x="3253.8" y="2222.6" width="49.72" height="6.4"/>
<rect x="3353.2" y="2222.6" width="49.72" height="6.4"/>
</g>
<line x1="370" y1="2229" x2="3403" y2="2229" stroke="#000" stroke-width="3.3"/>
<g stroke-width="3.3" stroke-dasharray="12.8,5.5">
<line x1="475" y1="1255" x2="475" y2="2229" stroke="pink"/>
<line x1="940.7" y1="1255" x2="940.7" y2="2229" stroke="violet"/>
<line x1="1315.8" y1="1255" x2="1315.8" y2="2229" stroke="brown"/>
<line x1="1721.7" y1="1255" x2="1721.7" y2="2229" stroke="blue"/>
<line x1="1835.2" y1="1255" x2="1835.2" y2="2229" stroke="orange"/>
<line x1="2145.6" y1="1255" x2="2145.6" y2="2229" stroke="skyblue"/>
<line x1="2256" y1="1255" x2="2256" y2="2229" stroke="red"/>
<line x1="2334.7" y1="1255" x2="2334.7" y2="2229" stroke="gray"/>
<line x1="2604.3" y1="1255" x2="2604.3" y2="2229" stroke="green"/>
</g>
<g stroke="#000" stroke-width="3.3">
<line x1="676" y1="2229" x2="676" y2="2244"/><line x1="1173.5" y1="2229" x2="1173.5" y2="2244"/><line x1="1671" y1="2229" x2="1671" y2="2244"/><line x1="2168.5" y1="2229" x2="2168.5" y2="2244"/><line x1="2666" y1="2229" x2="2666" y2="2244"/><line x1="3163.5" y1="2229" x2="3163.5" y2="2244"/>
<line x1="205" y1="2229" x2="220" y2="2229"/><line x1="205" y1="2101.7" x2="220" y2="2101.7"/><line x1="205" y1="1974.4" x2="220" y2="1974.4"/><line x1="205" y1="1847.1" x2="220" y2="1847.1"/><line x1="205" y1="1719.8" x2="220" y2="1719.8"/><line x1="205" y1="1592.5" x2="220" y2="1592.5"/><line x1="205" y1="1465.2" x2="220" y2="1465.2"/><line x1="205" y1="1337.9" x2="220" y2="1337.9"/>
</g>
<rect x="220" y="1255" width="3336" height="974" fill="none" stroke="#000" stroke-width="3.3"/>
<g font-size="42" text-anchor="middle">
<text x="676" y="2292">125</text><text x="1173.5" y="2292">130</text><text x="1671" y="2292">135</text><text x="2168.5" y="2292">140</text><text x="2666" y="2292">145</text><text x="3163.5" y="2292">150</text>
</g>
<g font-size="42" text-anchor="end">
<text x="190" y="2244">0</text><text x="190" y="2117">20</text><text x="190" y="1989">40</text><text x="190" y="1862">60</text><text x="190" y="1735">80</text><text x="190" y="1607">100</text><text x="190" y="1480">120</text><text x="190" y="1353">140</text>
</g>
<text x="1888" y="2352" font-size="40" text-anchor="middle">経度</text>
<text transform="translate(88,1742) rotate(-90)" font-size="40" text-anchor="middle">頻度</text>
</svg>
</body></html>
